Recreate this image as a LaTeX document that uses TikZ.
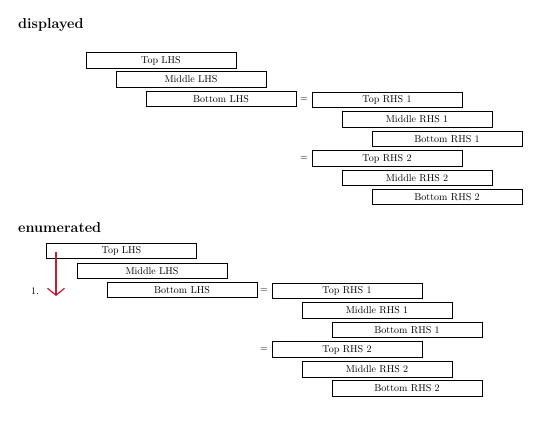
\documentclass[tikz,border=0pt]{standalone}
\usetikzlibrary{arrows.meta}
\definecolor{arrred}{RGB}{196,30,58}
\begin{document}
\begin{tikzpicture}[x=1pt,y=-1pt,
  eqbox/.style={draw,line width=0.7pt,minimum width=150pt,minimum height=15.5pt,inner sep=0pt,font=\normalsize},
  heading/.style={anchor=base west,font=\Large\bfseries,inner sep=0pt},
  eqsign/.style={inner sep=0pt,font=\normalsize},
  redarrow/.style={draw=arrred,line width=1.2pt,-{Straight Barb[length=7pt,width=17pt,line width=1.2pt]}}]
\useasboundingbox (0,0) rectangle (540,426);
% displayed
\node[heading] (h1) at (18,28) {displayed};
\node[eqbox] (dTL) at (161,60.5) {Top LHS};
\node[eqbox] (dML) at (191,79.5) {Middle LHS};
\node[eqbox] (dBL) at (221,99) {Bottom LHS};
\node[eqsign] (dEq1) at (304,100) {$=$};
\node[eqbox] (dTR1) at (387,100) {Top RHS 1};
\node[eqbox] (dMR1) at (417,119.5) {Middle RHS 1};
\node[eqbox] (dBR1) at (447,139) {Bottom RHS 1};
\node[eqsign] (dEq2) at (304,158.5) {$=$};
\node[eqbox] (dTR2) at (387,158.5) {Top RHS 2};
\node[eqbox] (dMR2) at (417,178) {Middle RHS 2};
\node[eqbox] (dBR2) at (447,197) {Bottom RHS 2};
% enumerated
\node[heading] (h2) at (18,232) {enumerated};
\node[eqbox] (eTL) at (121.5,251) {Top LHS};
\node[eqbox] (eML) at (152,271) {Middle LHS};
\node[eqbox] (eBL) at (182,290) {Bottom LHS};
\node[anchor=base east,inner sep=0pt] (num) at (39,294) {1.};
\node[eqsign] (eEq1) at (264,291) {$=$};
\node[eqbox] (eTR1) at (347,291) {Top RHS 1};
\node[eqbox] (eMR1) at (377,310.5) {Middle RHS 1};
\node[eqbox] (eBR1) at (407,330) {Bottom RHS 1};
\node[eqsign] (eEq2) at (264,349.5) {$=$};
\node[eqbox] (eTR2) at (347,349.5) {Top RHS 2};
\node[eqbox] (eMR2) at (377,369.5) {Middle RHS 2};
\node[eqbox] (eBR2) at (407,388.5) {Bottom RHS 2};
\coordinate (arrS) at (56,252);
\coordinate (arrE) at (56,296);
\draw[redarrow] (arrS) -- (arrE);
\end{tikzpicture}
\end{document}
